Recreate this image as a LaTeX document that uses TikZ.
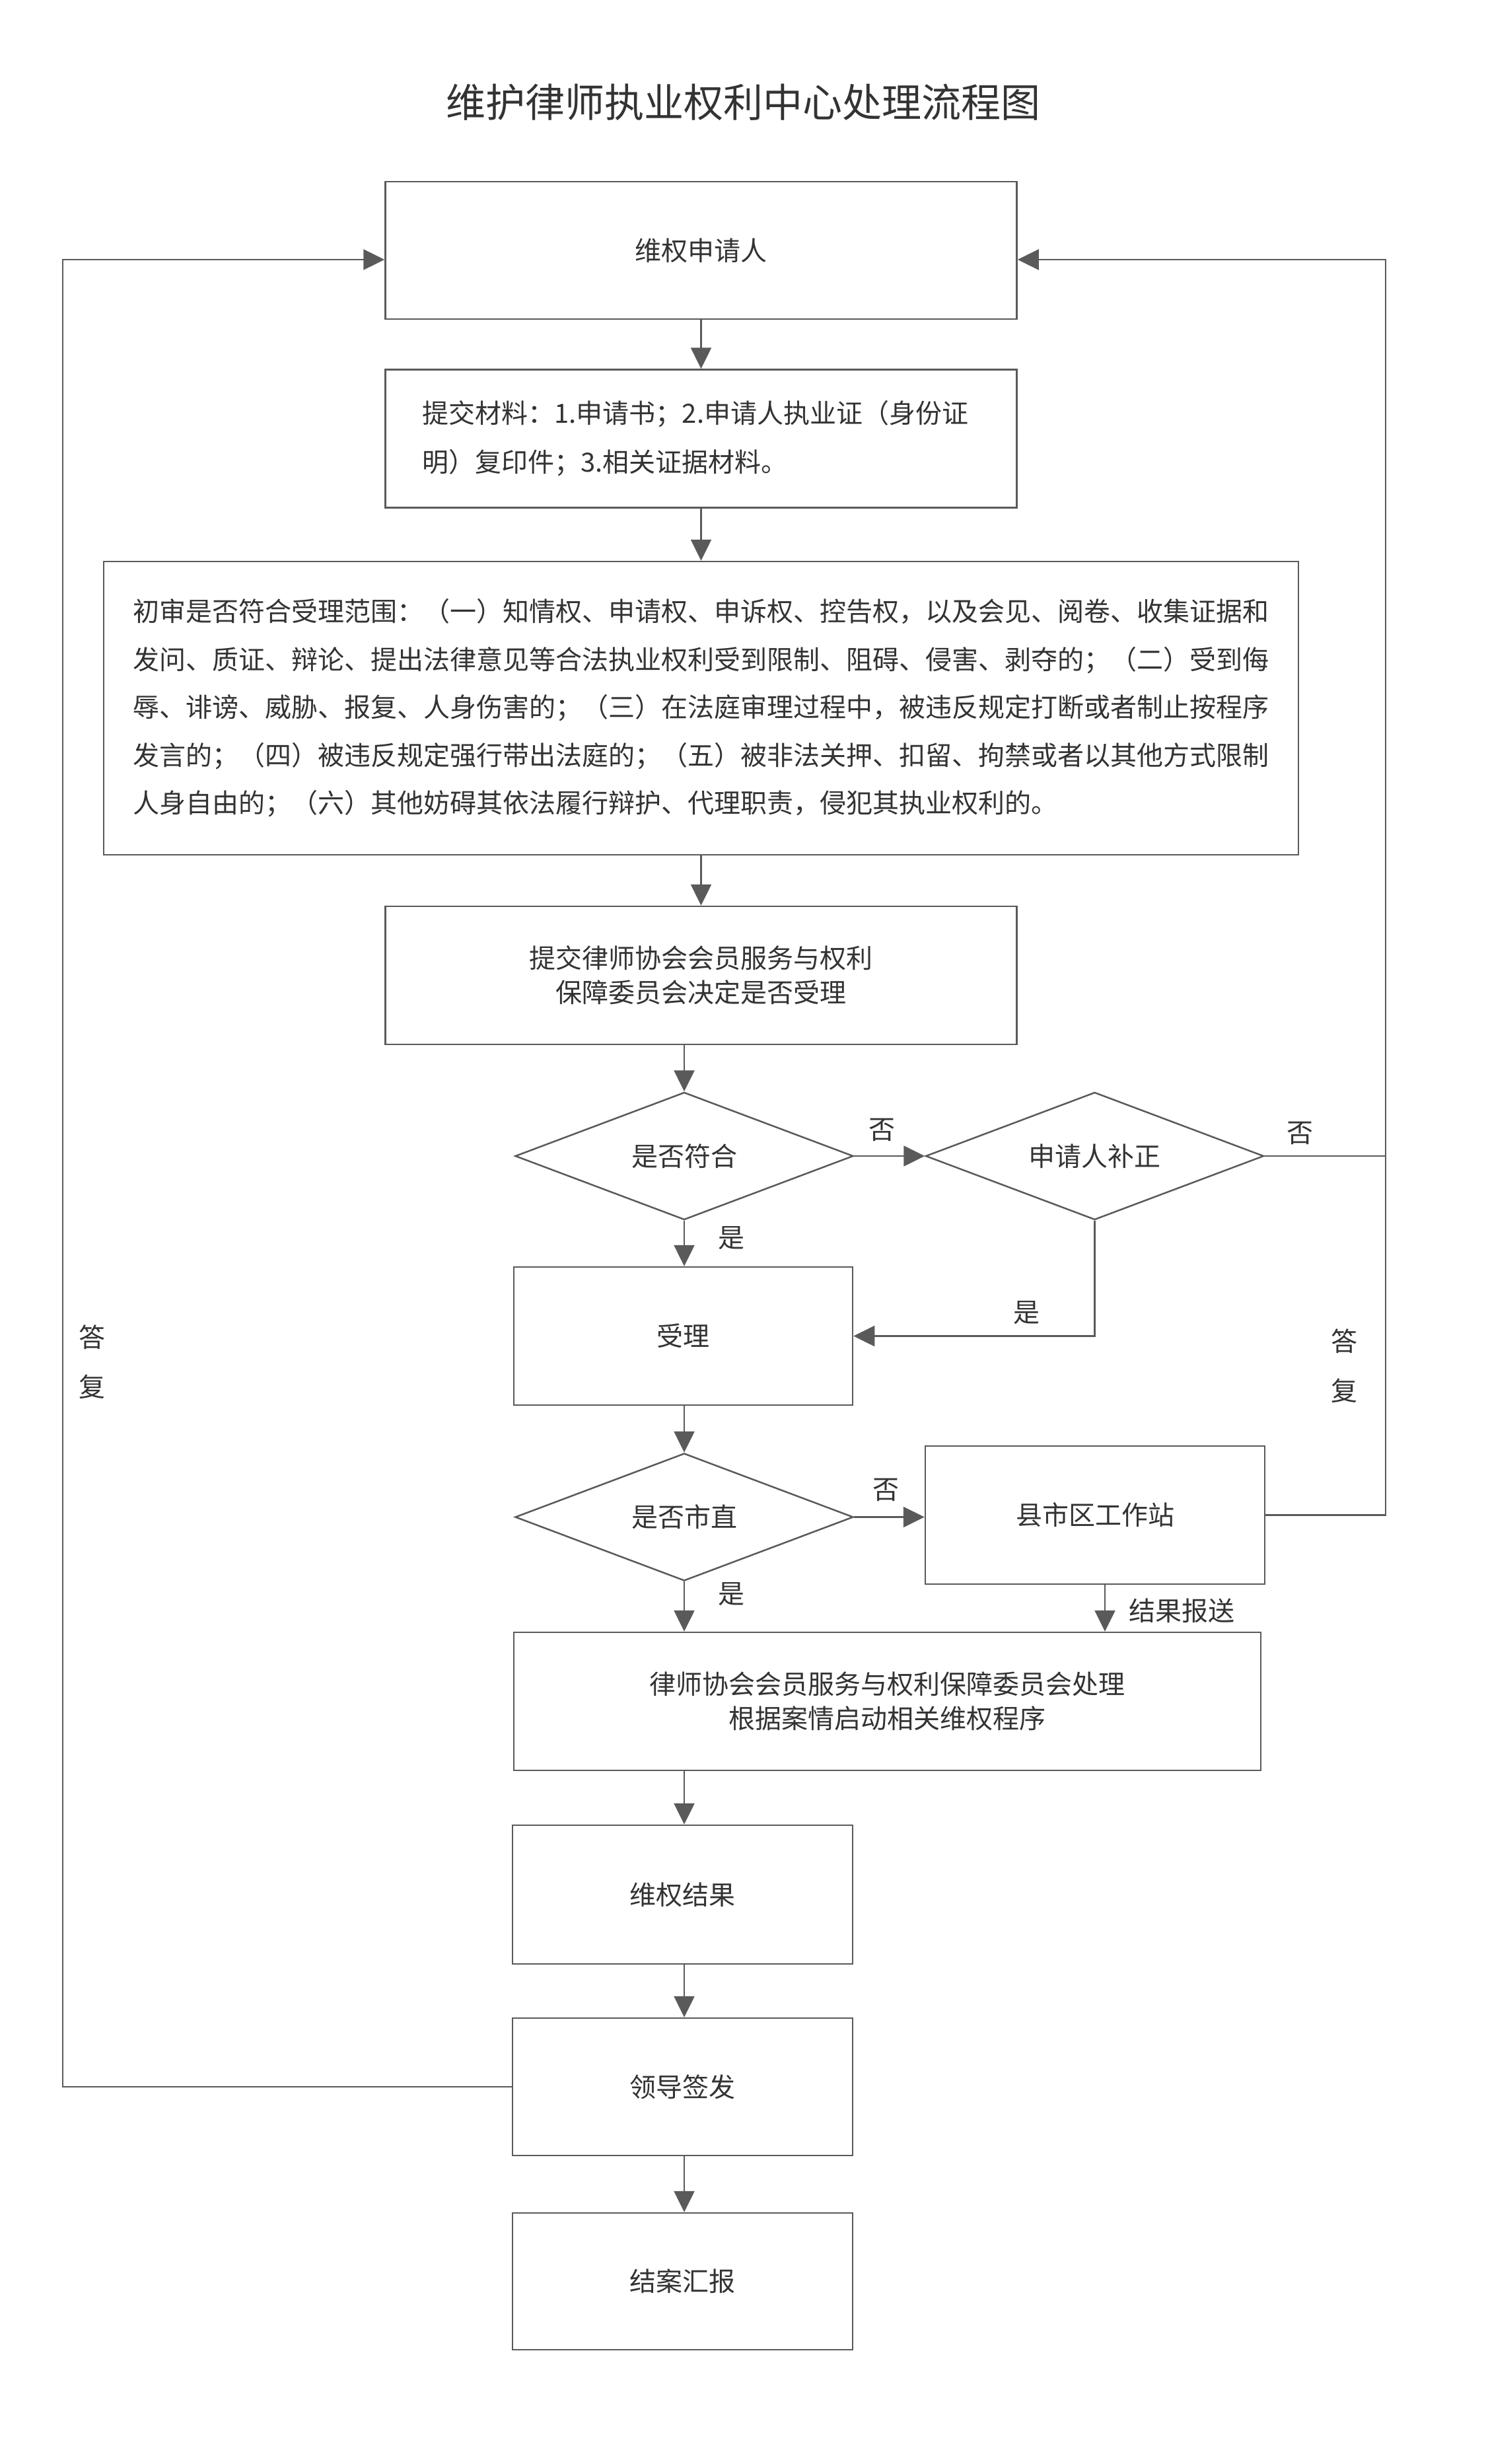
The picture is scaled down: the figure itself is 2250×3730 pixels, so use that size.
\documentclass[tikz,border=0pt]{standalone}
\usepackage{fontspec}
\setmainfont{Noto Sans CJK SC}
\usetikzlibrary{shapes.geometric,arrows.meta}
\definecolor{ln}{HTML}{5A5A5A}
\definecolor{tx}{HTML}{333333}
\begin{document}
\begin{tikzpicture}[x=1pt,y=-1pt,
  every node/.style={text=tx, font=\fontsize{40}{52}\selectfont, inner sep=0pt},
  box/.style={draw=ln, line width=2.5pt, rectangle, fill=white, align=center},
  dia/.style={draw=ln, line width=2.5pt, diamond, aspect=2.65, minimum width=512pt, minimum height=193pt, fill=white},
  conn/.style={draw=ln, line width=2.5pt},
  arr/.style={conn, -{Triangle[length=32pt,width=31pt]}}
]
\useasboundingbox (0,0) rectangle (2250,3730);
\fill[white] (0,0) rectangle (2250,3730);

\node (title) at (1125,155) {\fontsize{60}{72}\selectfont 维护律师执业权利中心处理流程图};

\node[box, minimum width=956pt, minimum height=208pt] (b1) at (1061.5,379) {维权申请人};
\node[box, minimum width=956pt, minimum height=209pt, text width=844pt, align=left, font=\fontsize{40}{74}\selectfont] (b2) at (1061.5,664) {提交材料：1.申请书；2.申请人执业证（身份证\\明）复印件；3.相关证据材料。};
\node[box, minimum width=1809pt, minimum height=444pt, text width=1720pt, align=left, font=\fontsize{40}{72.5}\selectfont] (b3) at (1061.5,1072) {初审是否符合受理范围：（一）知情权、申请权、申诉权、控告权，以及会见、阅卷、收集证据和\\发问、质证、辩论、提出法律意见等合法执业权利受到限制、阻碍、侵害、剥夺的；（二）受到侮\\辱、诽谤、威胁、报复、人身伤害的；（三）在法庭审理过程中，被违反规定打断或者制止按程序\\发言的；（四）被违反规定强行带出法庭的；（五）被非法关押、扣留、拘禁或者以其他方式限制\\人身自由的；（六）其他妨碍其依法履行辩护、代理职责，侵犯其执业权利的。};
\node[box, minimum width=956pt, minimum height=209pt] (b4) at (1061.5,1476.5) {提交律师协会会员服务与权利\\保障委员会决定是否受理};

\node[dia] (d1) at (1036,1750) {是否符合};
\node[dia] (d2) at (1657.5,1750) {申请人补正};
\node[box, minimum width=513pt, minimum height=209pt] (sl) at (1034.5,2022.5) {受理};
\node[dia] (d3) at (1036,2296.5) {是否市直};
\node[box, minimum width=514pt, minimum height=209pt] (ws) at (1658,2293.5) {县市区工作站};
\node[box, minimum width=1131pt, minimum height=209pt] (big) at (1343.5,2575.5) {律师协会会员服务与权利保障委员会处理\\根据案情启动相关维权程序};
\node[box, minimum width=515pt, minimum height=210pt] (b5) at (1033.5,2868) {维权结果};
\node[box, minimum width=515pt, minimum height=208pt] (b6) at (1033.5,3159) {领导签发};
\node[box, minimum width=515pt, minimum height=207pt] (b7) at (1033.5,3453.5) {结案汇报};

\coordinate (rt) at (2098,393);
\coordinate (lt) at (95,393);

\draw[arr] (b1) -- (b2);
\draw[arr] (b2) -- (b3);
\draw[arr] (b3) -- (b4);
\draw[arr] (b4.south -| d1.north) -- (d1.north);
\draw[arr] (d1.east) -- (d2.west);
\draw[arr] (d1.south) -- (d1.south |- sl.north);
\draw[arr] (d2.south) |- (sl.east);
\draw[conn] (d2.east) -- (d2.east -| rt);
\draw[arr] (ws.east) -- (ws.east -| rt) -- (rt) -- (rt -| b1.east);
\draw[arr] (d1.south |- sl.south) -- (d3.north);
\draw[arr] (d3.east) -- (d3.east -| ws.west);
\draw[arr] (d3.south) -- (d3.south |- big.north);
\draw[arr] ([xshift=15pt]ws.south) -- ([xshift=15pt]ws.south |- big.north);
\draw[arr] (d3.south |- big.south) -- (d3.south |- b5.north);
\draw[arr] (d3.south |- b5.south) -- (d3.south |- b6.north);
\draw[arr] (d3.south |- b6.south) -- (d3.south |- b7.north);
\draw[arr] (b6.west) -- (b6.west -| lt) -- (lt) -- (lt -| b1.west);

\node (y1) at (1107,1874) {是};
\node (n1) at (1335,1710) {否};
\node (n2) at (1968,1715) {否};
\node (y2) at (1554,1987) {是};
\node (n3) at (1341,2255) {否};
\node (y3) at (1107,2413) {是};
\node (jg) at (1789,2438) {结果报送};
\node (la) at (139,2024) {答};
\node (lf) at (139,2099) {复};
\node (ra) at (2035,2030) {答};
\node (rf) at (2035,2105) {复};
\end{tikzpicture}
\end{document}
